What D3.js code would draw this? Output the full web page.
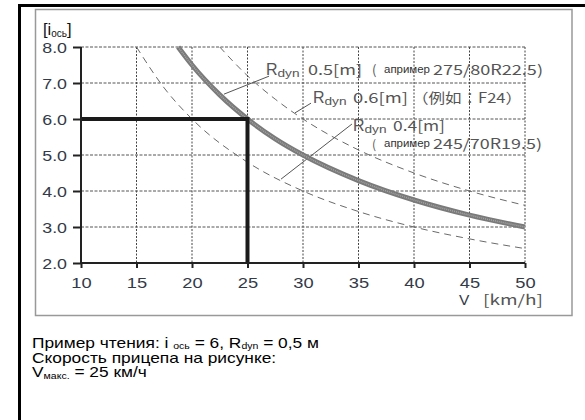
<!DOCTYPE html>
<html>
<head>
<meta charset="utf-8">
<script src="https://cdn.jsdelivr.net/npm/d3@7"></script>
<style>
  body { margin: 0; background: #fff; }
  svg { display: block; }
  text { font-family: "Liberation Sans", Arial, sans-serif; }
</style>
</head>
<body>
<div id="chart"></div>
<script>
  // axis ticks
  var vTicks = [10, 15, 20, 25, 30, 35, 40, 45, 50];
  var iTicks = [2, 3, 4, 5, 6, 7, 8];

  // curves: [V km/h, i]
  var curveR05 = [[18.75, 8.0], [20, 7.5], [22.5, 6.67], [25, 6.0], [27.5, 5.45], [30, 5.0], [35, 4.29], [40, 3.75], [45, 3.33], [50, 3.0]];
  var curveR06 = [[22.5, 8.0], [25, 7.2], [27.5, 6.55], [30, 6.0], [35, 5.14], [40, 4.5], [45, 4.0], [50, 3.6]];
  var curveR04 = [[15, 8.0], [17.5, 6.86], [20, 6.0], [25, 4.8], [30, 4.0], [35, 3.43], [40, 3.0], [45, 2.67], [50, 2.4]];

  // reading example
  var examplePoint = [25, 6];

  // leader lines [[V,i],[V,i]]
  var leaders = [
    [[26.94, 7.19], [22.88, 6.69]],
    [[30.72, 6.44], [29.28, 6.17]],
    [[34.41, 5.86], [28.02, 4.33]]
  ];

  var W = 585, H = 420;
  var svg = d3.select("#chart").append("svg").attr("width", W).attr("height", H);

  // outer frame
  svg.append("path")
     .attr("d", "M19.5,420 L19.5,5.5 L586,5.5")
     .attr("fill", "none").attr("stroke", "#000").attr("stroke-width", 3);
  svg.append("rect")
     .attr("x", 35.5).attr("y", 9.5).attr("width", 536.5).attr("height", 306)
     .attr("fill", "none").attr("stroke", "#999").attr("stroke-width", 1.5);

  var x = d3.scaleLinear().domain([10, 50]).range([81, 525]);
  var y = d3.scaleLinear().domain([2, 8]).range([263, 47]);

  // grid
  var grid = svg.append("g");
  grid.selectAll(".gv").data(vTicks.slice(1)).enter().append("line")
      .attr("x1", function(d){ return x(d); }).attr("x2", function(d){ return x(d); })
      .attr("y1", y(8)).attr("y2", y(2))
      .attr("stroke", "#444").attr("stroke-width", 1).attr("stroke-dasharray", "2,1.5");
  grid.selectAll(".gh").data(iTicks.slice(1)).enter().append("line")
      .attr("x1", x(10)).attr("x2", x(50))
      .attr("y1", function(d){ return y(d); }).attr("y2", function(d){ return y(d); })
      .attr("stroke", "#555").attr("stroke-width", 1).attr("stroke-dasharray", "3,1.5");

  var line = d3.line()
               .x(function(d){ return x(d[0]); })
               .y(function(d){ return y(d[1]); })
               .curve(d3.curveMonotoneX);

  // dashed curves
  [curveR06, curveR04].forEach(function(c){
    svg.append("path").attr("d", line(c))
       .attr("fill", "none").attr("stroke", "#6a6a6a").attr("stroke-width", 1)
       .attr("stroke-dasharray", "7,5");
  });

  // leader lines
  svg.selectAll(".leader").data(leaders).enter().append("line")
     .attr("x1", function(d){ return x(d[0][0]); }).attr("y1", function(d){ return y(d[0][1]); })
     .attr("x2", function(d){ return x(d[1][0]); }).attr("y2", function(d){ return y(d[1][1]); })
     .attr("stroke", "#555").attr("stroke-width", 1);

  // thick curve
  svg.append("path").attr("d", line(curveR05))
     .attr("fill", "none").attr("stroke", "#7a7a7a").attr("stroke-width", 5);
  svg.append("path").attr("d", line(curveR05))
     .attr("fill", "none").attr("stroke", "#a5a5a5").attr("stroke-width", 1.5)
     .attr("stroke-dasharray", "1,1");

  // example lines
  svg.append("path")
     .attr("d", "M" + x(10) + "," + y(examplePoint[1]) + "H" + x(examplePoint[0]) + "V" + y(2))
     .attr("fill", "none").attr("stroke", "#1a1a1a").attr("stroke-width", 4);

  // axes
  var xAxis = d3.axisBottom(x).tickValues(vTicks).tickSize(5).tickFormat(d3.format("d"));
  var yAxis = d3.axisLeft(y).tickValues(iTicks).tickSize(8).tickFormat(d3.format(".1f"));
  var gx = svg.append("g").attr("transform", "translate(0," + y(2) + ")").call(xAxis);
  var gy = svg.append("g").attr("transform", "translate(" + x(10) + ",0)").call(yAxis);
  [gx, gy].forEach(function(g){
    g.select(".domain").attr("stroke", "#222").attr("stroke-width", 2);
    g.selectAll(".tick line").attr("stroke", "#222").attr("stroke-width", 2);
    g.selectAll(".tick text").attr("fill", "#333a48")
     .style("font-family", "'Liberation Sans', Arial, sans-serif").style("font-size", "15.5px");
  });
  gx.select(".domain").attr("d", "M" + x(10) + ",0H" + x(50));
  gy.select(".domain").attr("d", "M0," + y(8) + "V" + y(2));
  // the original glyphs are a bit wider than Liberation Sans
  gx.selectAll(".tick text").attr("y", 14).attr("dy", "0.71em").attr("transform", "scale(1.18,1)");
  gy.selectAll(".tick text").attr("x", -14 / 1.15).attr("dy", "0.36em").attr("transform", "scale(1.15,1)");

  // axis titles
  var yt = svg.append("text").attr("x", 43).attr("y", 35).attr("fill", "#111").style("font-size", "16.5px");
  yt.append("tspan").text("[i");
  yt.append("tspan").text("ось").style("font-size", "10px").attr("dy", 2);
  yt.append("tspan").text("]").attr("dy", -2);

  svg.append("text").attr("x", 459).attr("y", 305).attr("fill", "#333a48")
     .style("font-size", "15.5px").text("V");
  svg.append("text").attr("x", 483).attr("y", 305).attr("fill", "#555")
     .attr("textLength", 60).attr("lengthAdjust", "spacingAndGlyphs")
     .style("font-family", "'Noto Sans CJK JP', sans-serif").style("font-size", "14px").text("[km/h]");

  // curve labels
  var labelColor = "#555";
  function seg(tx, ty, str, size, len, font, col){
    var t = svg.append("text").attr("x", tx).attr("y", ty).attr("fill", col || labelColor)
               .style("font-size", size + "px").text(str);
    if (font) t.style("font-family", font);
    if (len) t.attr("textLength", len).attr("lengthAdjust", "spacingAndGlyphs");
    return t;
  }
  var cjk = "'Noto Sans CJK JP', sans-serif";
  function rdyn(tx, ty){
    seg(tx, ty, "R", 16);
    seg(tx + 11.5, ty + 2, "dyn", 11.5, 22);
  }
  rdyn(266, 75);
  seg(308, 75, "0.5[m]", 14, 54, cjk);
  seg(372, 75, "(", 13, 0, cjk);
  seg(384, 73, "апример", 10, 46, null, "#333");
  seg(433, 75, "275/80R22.5)", 14, 110, cjk);

  rdyn(313, 103);
  seg(353, 103, "0.6[m]", 14, 55, cjk);
  seg(412, 103, "（例如：F24）", 14, 110, cjk);

  rdyn(353, 131);
  seg(393, 131, "0.4[m]", 14, 52, cjk);
  seg(372, 149, "(", 12, 0, cjk);
  seg(384, 147, "апример", 10, 46, null, "#333");
  seg(433, 149, "245/70R19.5)", 14, 109, cjk);

  // notes, stretched horizontally like the original
  var notes = svg.append("g").attr("transform", "translate(32,0) scale(1.24,1)");
  var n1 = notes.append("text").attr("x", 0).attr("y", 348).attr("fill", "#000").style("font-size", "14px");
  n1.append("tspan").text("Пример чтения: i ");
  n1.append("tspan").text("ось").style("font-size", "8.5px").attr("dy", 1);
  n1.append("tspan").text(" = 6, R").attr("dy", -1);
  n1.append("tspan").text("dyn").style("font-size", "8.5px").attr("dy", 1);
  n1.append("tspan").text(" = 0,5 м").attr("dy", -1);
  notes.append("text").attr("x", 0).attr("y", 363).attr("fill", "#000").style("font-size", "14px")
     .text("Скорость прицепа на рисунке:");
  var n3 = notes.append("text").attr("x", 0).attr("y", 377).attr("fill", "#000").style("font-size", "14px");
  n3.append("tspan").text("V");
  n3.append("tspan").text("макс.").style("font-size", "8.5px").attr("dy", 2);
  n3.append("tspan").text(" = 25 км/ч").attr("dy", -2);
</script>
</body>
</html>
